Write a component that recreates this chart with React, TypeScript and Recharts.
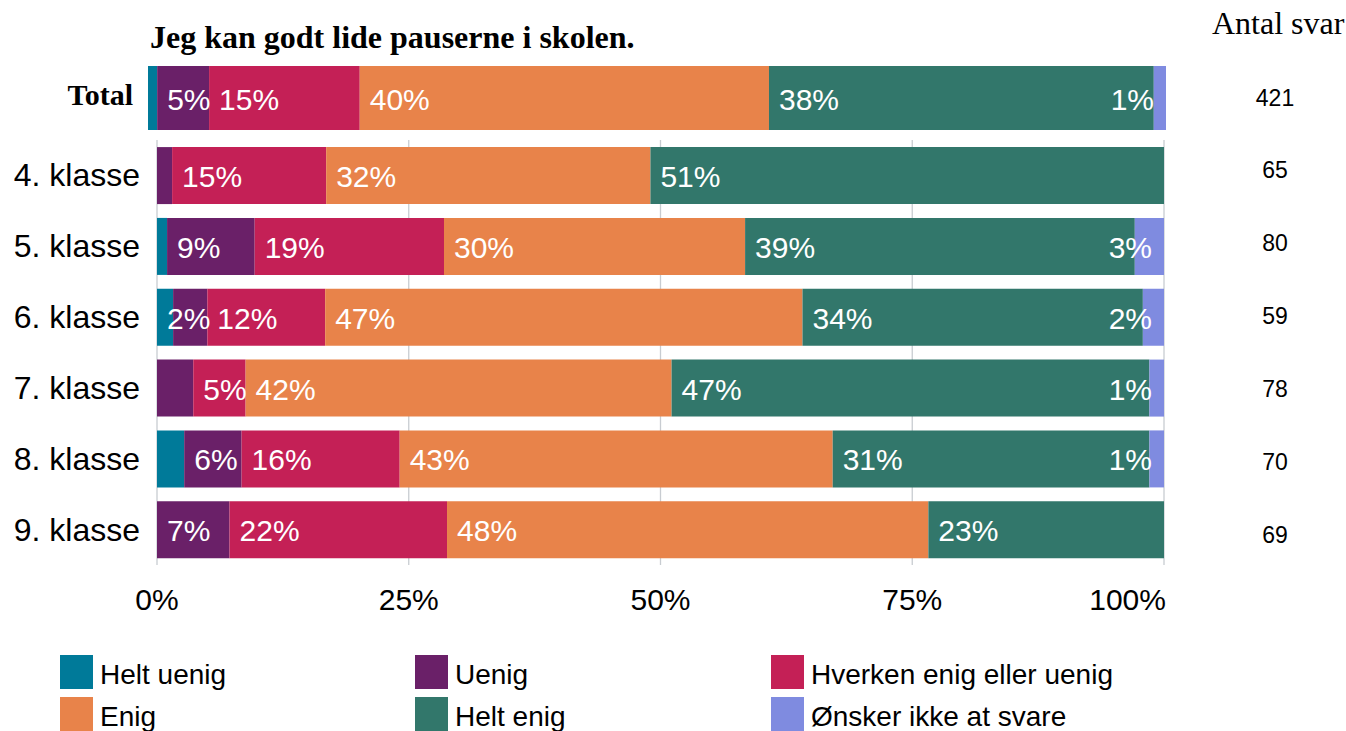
import React from "react";
import { BarChart, Bar, XAxis, YAxis, CartesianGrid, LabelList } from "recharts";

// categories + number of answers
const categories = ["4. klasse", "5. klasse", "6. klasse", "7. klasse", "8. klasse", "9. klasse"];
const counts = [65, 80, 59, 78, 70, 69];

// share of answers in percent, one array per answer option
const heltUenig = [0, 1.0, 1.6, 0, 2.7, 0];
const uenig = [1.5, 8.7, 3.4, 3.6, 5.7, 7.2];
const hverken = [15.3, 18.8, 11.7, 5.2, 15.7, 21.6];
const enig = [32.2, 29.9, 47.4, 42.3, 43.0, 47.8];
const heltEnig = [51.0, 38.7, 33.8, 47.45, 31.45, 23.4];
const oenskerIkke = [0, 2.9, 2.1, 1.45, 1.45, 0];

const totalLabel = "Total";
const totalCount = 421;
const totalValues = [0.9, 5.1, 14.8, 40.2, 37.8, 1.2];

const xTicks = [0, 25, 50, 75, 100];

// labels that the original leaves out (too narrow)
const hiddenLabels = [
  "Total:heltUenig",
  "4. klasse:uenig",
  "5. klasse:heltUenig",
  "6. klasse:uenig",
  "7. klasse:uenig",
  "8. klasse:heltUenig",
];

const series = [
  { key: "heltUenig", name: "Helt uenig", color: "#007A99", values: heltUenig },
  { key: "uenig", name: "Uenig", color: "#6A2068", values: uenig },
  { key: "hverken", name: "Hverken enig eller uenig", color: "#C42056", values: hverken },
  { key: "enig", name: "Enig", color: "#E8834A", values: enig },
  { key: "heltEnig", name: "Helt enig", color: "#32776B", values: heltEnig },
  { key: "oenskerIkke", name: "Ønsker ikke at svare", color: "#7F8BE0", values: oenskerIkke },
];

const SANS = '"Liberation Sans", Arial, sans-serif';
const SERIF = '"Liberation Serif", "Times New Roman", serif';

const rows = categories.map((c, i) => {
  const r: any = { klasse: c, n: counts[i] };
  series.forEach((s) => (r[s.key] = s.values[i]));
  return r;
});

const totalRows = [
  (() => {
    const r: any = { klasse: totalLabel, n: totalCount };
    series.forEach((s, j) => (r[s.key] = totalValues[j]));
    return r;
  })(),
];

// label gets the category name as value, the row is looked up from it
function makeLabel(key: string, data: any[], last: boolean) {
  return (props: any) => {
    const { x, y, width, height, value } = props;
    const row = data.find((r) => r.klasse === value);
    if (!row) return null;
    const v = Number(row[key] ?? 0);
    if (v <= 0) return null;
    if (hiddenLabels.includes(`${row.klasse}:${key}`)) return null;
    const tx = last ? Number(x) + Number(width) - 12 : Number(x) + 10;
    return (
      <text
        x={tx}
        y={Number(y) + Number(height) / 2 + 1}
        textAnchor={last ? "end" : "start"}
        dominantBaseline="central"
        fill="#ffffff"
        fontFamily={SANS}
        fontSize={30}
      >
        {Math.round(v)}%
      </text>
    );
  };
}

const CatTick = (props: any) => {
  const { x, y, payload, bold } = props;
  return (
    <text
      x={x}
      y={bold ? Number(y) - 4 : y}
      textAnchor="end"
      dominantBaseline="central"
      fill="#000"
      fontFamily={bold ? SERIF : SANS}
      fontWeight={bold ? "bold" : "normal"}
      fontSize={bold ? 30 : 32}
    >
      {payload.value}
    </text>
  );
};

const CountTick = (props: any) => {
  const { x, y, payload } = props;
  return (
    <text x={x} y={y} textAnchor="middle" dominantBaseline="central" fill="#000" fontFamily={SANS} fontSize={23}>
      {payload.value}
    </text>
  );
};

const PctTick = (props: any) => {
  const { x, y, payload } = props;
  const last = payload.value === 100;
  return (
    <text
      x={last ? Number(x) + 2 : x}
      y={y}
      dy="0.71em"
      textAnchor={last ? "end" : "middle"}
      fill="#000"
      fontFamily={SANS}
      fontSize={30}
    >
      {payload.value}%
    </text>
  );
};

function bars(data: any[]) {
  return series.map((s, j) => (
    <Bar
      key={s.key}
      dataKey={s.key}
      name={s.name}
      stackId="a"
      fill={s.color}
      isAnimationActive={false}
    >
      <LabelList dataKey="klasse" content={makeLabel(s.key, data, j === series.length - 1)} />
    </Bar>
  ));
}

export default function App() {
  return (
    <div
      style={{
        position: "absolute",
        left: 0,
        top: 0,
        width: 1346,
        height: 731,
        background: "#fff",
        overflow: "hidden",
      }}
    >
      <div
        style={{
          position: "absolute",
          left: 150,
          top: 21,
          lineHeight: 1,
          fontFamily: SERIF,
          fontWeight: "bold",
          fontSize: 32,
          whiteSpace: "nowrap",
        }}
      >
        Jeg kan godt lide pauserne i skolen.
      </div>
      <div
        style={{
          position: "absolute",
          left: 1212,
          top: 7,
          lineHeight: 1,
          fontFamily: SERIF,
          fontSize: 32,
          whiteSpace: "nowrap",
        }}
      >
        Antal svar
      </div>

      <div style={{ position: "absolute", left: 0, top: 0 }}>
        <BarChart
          layout="vertical"
          width={1346}
          height={140}
          data={totalRows}
          margin={{ top: 66, right: 0, bottom: 10, left: 0 }}
          barCategoryGap={0}
        >
          <XAxis type="number" domain={[0, 100]} hide />
          <YAxis
            type="category"
            dataKey="klasse"
            width={148}
            axisLine={false}
            tickLine={false}
            tickSize={0}
            tickMargin={15}
            tick={<CatTick bold />}
          />
          <YAxis
            yAxisId="n"
            type="category"
            dataKey="n"
            orientation="right"
            width={180}
            axisLine={false}
            tickLine={false}
            tickSize={0}
            tickMargin={109}
            tick={<CountTick />}
          />
          {bars(totalRows)}
        </BarChart>
      </div>

      <div style={{ position: "absolute", left: 0, top: 0 }}>
        <BarChart
          layout="vertical"
          width={1346}
          height={630}
          data={rows}
          margin={{ top: 140, right: 0, bottom: 10, left: 0 }}
          barCategoryGap="10%"
        >
          <CartesianGrid horizontal={false} stroke="#c8ccd1" strokeWidth={1.3} />
          <XAxis
            type="number"
            domain={[0, 100]}
            ticks={xTicks}
            height={55}
            axisLine={false}
            tickLine={false}
            tickSize={0}
            tickMargin={24}
            tick={<PctTick />}
          />
          <YAxis
            type="category"
            dataKey="klasse"
            width={157}
            axisLine={false}
            tickLine={false}
            tickSize={0}
            tickMargin={17}
            tick={<CatTick />}
          />
          <YAxis
            yAxisId="n"
            type="category"
            dataKey="n"
            orientation="right"
            width={182}
            padding={{ top: -7, bottom: -7 }}
            axisLine={false}
            tickLine={false}
            tickSize={0}
            tickMargin={111}
            tick={<CountTick />}
          />
          {bars(rows)}
        </BarChart>
      </div>

      <div
        style={{
          position: "absolute",
          left: 60,
          top: 655,
          width: 1068,
          display: "grid",
          gridTemplateColumns: "355px 356px 357px",
          rowGap: 8,
          fontFamily: SANS,
          fontSize: 28,
        }}
      >
        {series.map((s) => (
          <div key={s.key} style={{ display: "flex", alignItems: "center", height: 34 }}>
            <span style={{ display: "inline-block", width: 33, height: 34, background: s.color, marginRight: 7 }} />
            <span style={{ whiteSpace: "nowrap", paddingTop: 5 }}>{s.name}</span>
          </div>
        ))}
      </div>
    </div>
  );
}
